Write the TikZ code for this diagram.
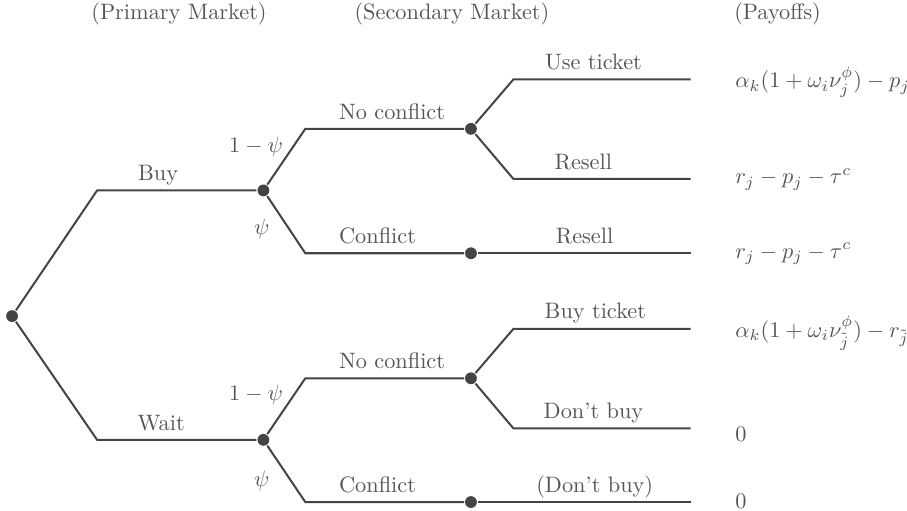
\documentclass[tikz,border=0pt]{standalone}
\usepackage{amsmath}
\definecolor{branch}{HTML}{444444}
\definecolor{txt}{HTML}{555555}
\tikzset{
  decision/.style={circle, fill=branch, inner sep=0pt, minimum size=5.3pt},
  lab/.style={anchor=base, text=txt},
  prob/.style={anchor=base east, text=txt},
  payoff/.style={anchor=mid west, inner sep=0pt, text=txt},
  header/.style={anchor=base, text=txt}
}
\begin{document}
\begin{tikzpicture}[line width=0.9pt, draw=branch]
    \useasboundingbox (-0.19,-3.07) rectangle (14.1,4.98);
    % column headers
    \node[header] (hprim) at (2.63,4.68) {(Primary Market)};
    \node[header] (hsec) at (6.93,4.68) {(Secondary Market)};
    \node[header] (hpay) at (12.06,4.68) {(Payoffs)};
    % decision points
    \node[decision] (root) at (0,0) {};
    \node[decision] (buy) at (3.96,1.98) {};
    \node[decision] (wait) at (3.96,-1.95) {};
    \node[decision] (bnc) at (7.23,2.95) {};
    \node[decision] (bc) at (7.23,0.99) {};
    \node[decision] (wnc) at (7.23,-0.98) {};
    \node[decision] (wc) at (7.23,-2.93) {};
    % end points
    \coordinate (use) at (10.69,3.73);
    \coordinate (bres) at (10.69,2.16);
    \coordinate (cres) at (10.69,0.99);
    \coordinate (tick) at (10.69,-0.20);
    \coordinate (nobuy) at (10.69,-1.77);
    \coordinate (cnobuy) at (10.69,-2.93);
    % primary market
    \draw (root) -- (1.34,1.98) -- (buy);
    \draw (root) -- (1.34,-1.95) -- (wait);
    \node[lab] (lbuy) at (2.3,2.135) {Buy};
    \node[lab] (lwait) at (2.35,-1.795) {Wait};
    % conflict or not
    \draw (buy) -- (4.62,2.95) -- (bnc);
    \draw (buy) -- (4.62,0.99) -- (bc);
    \draw (wait) -- (4.62,-0.98) -- (wnc);
    \draw (wait) -- (4.62,-2.93) -- (wc);
    \node[prob] (pb1) at (4.40,2.57) {$1-\psi$};
    \node[prob] (pb2) at (4.19,1.29) {$\psi$};
    \node[prob] (pw1) at (4.40,-1.33) {$1-\psi$};
    \node[prob] (pw2) at (4.19,-2.68) {$\psi$};
    \node[lab, anchor=base west] (lbnc) at (5.02,3.105) {No conflict};
    \node[lab, anchor=base west] (lbc) at (5.02,1.145) {Conflict};
    \node[lab, anchor=base west] (lwnc) at (5.02,-0.825) {No conflict};
    \node[lab, anchor=base west] (lwc) at (5.02,-2.775) {Conflict};
    % secondary market
    \draw (bnc) -- (7.90,3.73) -- (use);
    \draw (bnc) -- (7.90,2.16) -- (bres);
    \draw (bc) -- (cres);
    \draw (wnc) -- (7.90,-0.20) -- (tick);
    \draw (wnc) -- (7.90,-1.77) -- (nobuy);
    \draw (wc) -- (cnobuy);
    \node[lab] (luse) at (9.16,3.885) {Use ticket};
    \node[lab] (lbres) at (9.0,2.315) {Resell};
    \node[lab] (lcres) at (9.02,1.145) {Resell};
    \node[lab] (ltick) at (9.19,-0.045) {Buy ticket};
    \node[lab] (lnobuy) at (9.16,-1.615) {Don't buy};
    \node[lab] (lcnobuy) at (9.18,-2.775) {(Don't buy)};
    % payoffs
    \node[payoff] (puse) at (11.38,3.67) {$\alpha_k(1+\omega_i\nu_j^{\phi})-p_j$};
    \node[payoff] (pbres) at (11.38,2.16) {$r_j-p_j-\tau^c$};
    \node[payoff] (pcres) at (11.38,0.99) {$r_j-p_j-\tau^c$};
    \node[payoff] (ptick) at (11.38,-0.26) {$\alpha_k(1+\omega_i\nu_{\tilde{j}}^{\phi})-r_{\tilde{j}}$};
    \node[payoff] (pnobuy) at (11.38,-1.90) {$0$};
    \node[payoff] (pcnobuy) at (11.38,-2.95) {$0$};
\end{tikzpicture}
\end{document}
